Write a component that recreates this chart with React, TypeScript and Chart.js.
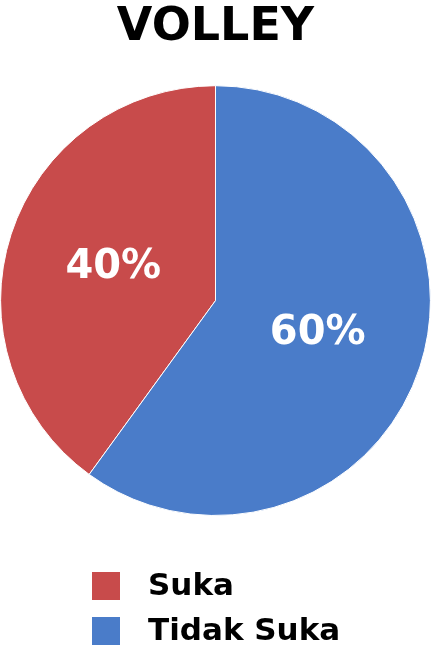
import React, { useEffect, useRef } from "react";
import { Chart, registerables } from "chart.js";

Chart.register(...registerables);

const chartTitle = "VOLLEY";
const categories = ["Suka", "Tidak Suka"];
const values = [40, 60];
const sliceColors = ["#C84B4B", "#4A7CC9"];

const FONT = "'DejaVu Sans', sans-serif";

const sliceLabelPlugin = {
  id: "sliceLabels",
  afterDatasetsDraw(chart: any) {
    const ctx = chart.ctx;
    const meta = chart.getDatasetMeta(0);
    const data = chart.data.datasets[0].data as number[];
    const total = data.reduce((a, b) => a + b, 0);
    ctx.save();
    ctx.fillStyle = "#ffffff";
    ctx.font = `bold 40px ${FONT}`;
    ctx.textAlign = "center";
    ctx.textBaseline = "middle";
    meta.data.forEach((arc: any, i: number) => {
      const p = arc.tooltipPosition();
      const pct = Math.round((data[i] / total) * 100) + "%";
      ctx.fillText(pct, p.x, p.y);
    });
    ctx.restore();
  },
};

const customLegendPlugin = {
  id: "customLegend",
  afterDraw(chart: any) {
    const ctx = chart.ctx;
    const labels = chart.data.labels as string[];
    const colors = chart.data.datasets[0].backgroundColor as string[];
    const boxX = 92;
    const box = 28;
    const firstY = 572;
    const step = 45;
    ctx.save();
    ctx.font = `bold 31px ${FONT}`;
    ctx.textAlign = "left";
    ctx.textBaseline = "middle";
    labels.forEach((lab, i) => {
      const y = firstY + i * step;
      ctx.fillStyle = colors[i];
      ctx.fillRect(boxX, y, box, box);
      ctx.fillStyle = "#000000";
      ctx.fillText(lab, 148, y + box / 2 + 1);
    });
    ctx.restore();
  },
};

export default function App() {
  const ref = useRef<HTMLCanvasElement | null>(null);
  useEffect(() => {
    if (!ref.current) return;
    const chart = new Chart(ref.current, {
      type: "pie",
      data: {
        labels: categories,
        datasets: [
          {
            data: values,
            backgroundColor: sliceColors,
            borderColor: "#ffffff",
            borderWidth: 1,
          },
        ],
      },
      options: {
        animation: false,
        responsive: true,
        maintainAspectRatio: false,
        rotation: 216,
        layout: { padding: { top: 0, bottom: 138, left: 0, right: 0 } },
        plugins: {
          legend: { display: false },
          tooltip: { enabled: false },
          title: {
            display: true,
            text: chartTitle,
            color: "#000000",
            font: { family: FONT, size: 46, weight: "bold", lineHeight: 1.2 },
            padding: { top: 0, bottom: 30 },
          },
        },
      },
      plugins: [sliceLabelPlugin, customLegendPlugin],
    });
    return () => chart.destroy();
  }, []);
  return (
    <div
      style={{
        position: "fixed",
        left: 0,
        top: 0,
        width: 431,
        height: 654,
        background: "#ffffff",
      }}
    >
      <canvas ref={ref} />
    </div>
  );
}
